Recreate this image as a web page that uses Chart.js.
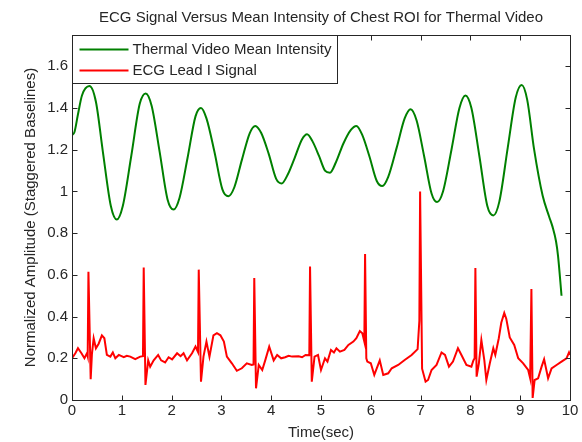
<!DOCTYPE html>
<html>
<head>
<meta charset="utf-8">
<script src="https://cdn.jsdelivr.net/npm/chart.js@4.4.0/dist/chart.umd.min.js"></script>
<style>
  html, body { margin: 0; padding: 0; background: #fff; }
  #wrap { width: 582px; height: 442px; }
</style>
</head>
<body>
<div id="wrap"><canvas id="ecgChart"></canvas></div>
<script>
const chartTitle = 'ECG Signal Versus Mean Intensity of Chest ROI for Thermal Video';
const thermalLabel = 'Thermal Video Mean Intensity';
const ecgLabel = 'ECG Lead I Signal';

// thermal video mean intensity (sec, normalized)
const thermalTime = [0.00, 0.05, 0.12, 0.20, 0.35, 0.48, 0.62, 0.78, 0.90, 1.02, 1.19, 1.36, 1.48, 1.60, 1.76, 1.92,
  2.04, 2.16, 2.32, 2.48, 2.59, 2.70, 2.86, 3.02, 3.14, 3.26, 3.41, 3.57, 3.68, 3.80, 3.95, 4.10, 4.21, 4.33,
  4.47, 4.62, 4.72, 4.83, 4.96, 5.08, 5.18, 5.30, 5.45, 5.60, 5.71, 5.83, 5.97, 6.12, 6.23, 6.35, 6.52, 6.68,
  6.80, 6.92, 7.07, 7.22, 7.33, 7.45, 7.62, 7.78, 7.90, 8.02, 8.18, 8.34, 8.46, 8.58, 8.75, 8.91, 9.03, 9.14,
  9.28, 9.45, 9.58, 9.65, 9.72, 9.76, 9.83];
const thermalValue = [1.27, 1.285, 1.37, 1.46, 1.505, 1.43, 1.19, 0.93, 0.865, 0.93, 1.17, 1.42, 1.47, 1.41, 1.19, 0.96,
  0.913, 0.97, 1.16, 1.36, 1.40, 1.35, 1.19, 1.01, 0.977, 1.02, 1.15, 1.28, 1.314, 1.28, 1.18, 1.06, 1.038, 1.08,
  1.16, 1.25, 1.274, 1.24, 1.17, 1.10, 1.09, 1.14, 1.23, 1.295, 1.314, 1.27, 1.17, 1.05, 1.026, 1.07, 1.21, 1.35,
  1.394, 1.34, 1.17, 0.99, 0.949, 1.00, 1.20, 1.40, 1.46, 1.40, 1.17, 0.93, 0.885, 0.95, 1.21, 1.45, 1.51, 1.44,
  1.20, 0.98, 0.88, 0.83, 0.76, 0.69, 0.50];

// ECG lead I (sec, normalized)
const ecgTime = [0.00, 0.067, 0.12, 0.19, 0.25, 0.30, 0.315, 0.33, 0.375, 0.40, 0.435, 0.48, 0.535, 0.60, 0.65,
  0.70, 0.77, 0.82, 0.87, 0.94, 1.04, 1.10, 1.17, 1.27, 1.37, 1.425, 1.44, 1.475, 1.53, 1.57, 1.64, 1.73, 1.79,
  1.87, 1.94, 2.01, 2.11, 2.18, 2.24, 2.31, 2.41, 2.48, 2.53, 2.545, 2.59, 2.64, 2.70, 2.76, 2.84, 2.91, 2.98,
  3.05, 3.11, 3.21, 3.31, 3.41, 3.51, 3.61, 3.645, 3.66, 3.695, 3.75, 3.82, 3.88, 3.96, 4.05, 4.12, 4.20, 4.28,
  4.35, 4.42, 4.55, 4.62, 4.69, 4.765, 4.78, 4.815, 4.87, 4.94, 5.00, 5.08, 5.13, 5.20, 5.26, 5.31, 5.38, 5.47,
  5.55, 5.65, 5.71, 5.78, 5.83, 5.87, 5.885, 5.91, 5.93, 6.00, 6.07, 6.18, 6.25, 6.35, 6.42, 6.55, 6.68, 6.82,
  6.94, 6.975, 6.99, 7.03, 7.10, 7.15, 7.22, 7.32, 7.42, 7.49, 7.57, 7.65, 7.75, 7.82, 7.92, 8.02, 8.06, 8.085,
  8.10, 8.125, 8.17, 8.22, 8.28, 8.32, 8.39, 8.46, 8.50, 8.57, 8.62, 8.68, 8.72, 8.79, 8.88, 8.96, 9.06, 9.16,
  9.20, 9.225, 9.25, 9.29, 9.36, 9.43, 9.48, 9.56, 9.63, 9.73, 9.83, 9.93, 9.98, 10.0];
const ecgValue = [0.20, 0.224, 0.248, 0.224, 0.20, 0.224, 0.21, 0.615, 0.10, 0.22, 0.296, 0.248, 0.27, 0.31, 0.296,
  0.216, 0.208, 0.228, 0.20, 0.216, 0.205, 0.212, 0.208, 0.196, 0.208, 0.21, 0.635, 0.072, 0.19, 0.16, 0.19, 0.216, 0.19,
  0.18, 0.205, 0.195, 0.224, 0.21, 0.224, 0.19, 0.224, 0.256, 0.23, 0.625, 0.088, 0.208, 0.28, 0.208, 0.31, 0.32, 0.31,
  0.28, 0.208, 0.176, 0.14, 0.152, 0.176, 0.168, 0.17, 0.585, 0.056, 0.168, 0.144, 0.19, 0.256, 0.19, 0.216, 0.20, 0.205,
  0.212, 0.208, 0.21, 0.205, 0.216, 0.215, 0.64, 0.088, 0.208, 0.216, 0.144, 0.20, 0.184, 0.24, 0.228, 0.248, 0.232, 0.24,
  0.264, 0.28, 0.296, 0.33, 0.32, 0.28, 0.70, 0.20, 0.184, 0.176, 0.12, 0.19, 0.12, 0.128, 0.152, 0.168, 0.192, 0.216,
  0.244, 0.38, 1.00, 0.15, 0.088, 0.096, 0.144, 0.168, 0.228, 0.216, 0.16, 0.184, 0.248, 0.216, 0.168, 0.16, 0.19, 0.20,
  0.633, 0.112, 0.176, 0.288, 0.19, 0.096, 0.176, 0.248, 0.216, 0.296, 0.37, 0.417, 0.39, 0.30, 0.264, 0.20, 0.176, 0.144,
  0.104, 0.532, 0.01, 0.096, 0.104, 0.16, 0.195, 0.104, 0.152, 0.168, 0.184, 0.20, 0.228, 0.216];

const xTicks = [0, 1, 2, 3, 4, 5, 6, 7, 8, 9, 10];
const yTicks = [0, 0.2, 0.4, 0.6, 0.8, 1, 1.2, 1.4, 1.6];

const textColor = '#262626';
const fontFamily = '"Liberation Sans", Arial, Helvetica, sans-serif';
const fontSize = 15;

// MATLAB style box: frame, inward ticks, legend and title
const matlabFrame = {
  id: 'matlabFrame',
  afterDraw(chart) {
    const { ctx, chartArea: a, scales: { x, y } } = chart;
    ctx.save();
    ctx.strokeStyle = textColor;
    ctx.lineWidth = 1;
    const L = Math.round(a.left) + 0.5, R = Math.round(a.right) + 0.5;
    const T = Math.round(a.top) + 0.5, B = Math.round(a.bottom) + 0.5;
    ctx.strokeRect(L, T, R - L, B - T);
    const len = 5;
    ctx.beginPath();
    x.ticks.forEach(t => {
      const px = Math.round(x.getPixelForValue(t.value)) + 0.5;
      ctx.moveTo(px, B); ctx.lineTo(px, B - len);
      ctx.moveTo(px, T); ctx.lineTo(px, T + len);
    });
    y.ticks.forEach(t => {
      const py = Math.round(y.getPixelForValue(t.value)) + 0.5;
      ctx.moveTo(L, py); ctx.lineTo(L + len, py);
      ctx.moveTo(R, py); ctx.lineTo(R - len, py);
    });
    ctx.stroke();

    // legend
    const lw = 265, lh = 48;
    ctx.fillStyle = '#fff';
    ctx.fillRect(L, T, lw, lh);
    ctx.strokeRect(L, T, lw, lh);
    ctx.font = fontSize + 'px ' + fontFamily;
    ctx.textBaseline = 'middle';
    ctx.textAlign = 'left';
    chart.data.datasets.forEach((ds, i) => {
      const ry = T + 14 + i * 21;
      ctx.beginPath();
      ctx.strokeStyle = ds.borderColor;
      ctx.lineWidth = 2;
      ctx.moveTo(L + 7, ry); ctx.lineTo(L + 56, ry);
      ctx.stroke();
      ctx.fillStyle = textColor;
      ctx.fillText(ds.label, L + 60, ry + 0.5);
    });

    // title centred over the axes
    ctx.textAlign = 'center';
    ctx.fillStyle = textColor;
    ctx.fillText(chartTitle, (a.left + a.right) / 2, 18);
    ctx.restore();
  }
};

new Chart(document.getElementById('ecgChart'), {
  type: 'line',
  data: {
    datasets: [{
      label: thermalLabel,
      data: thermalTime.map((t, i) => ({ x: t, y: thermalValue[i] })),
      borderColor: 'rgb(0,128,0)',
      borderWidth: 2,
      pointRadius: 0,
      cubicInterpolationMode: 'monotone'
    }, {
      label: ecgLabel,
      data: ecgTime.map((t, i) => ({ x: t, y: ecgValue[i] })),
      borderColor: 'rgb(255,0,0)',
      borderWidth: 2,
      pointRadius: 0,
      tension: 0
    }]
  },
  options: {
    responsive: true,
    maintainAspectRatio: false,
    animation: false,
    layout: { padding: { top: 35, right: 12, left: 0, bottom: 0 } },
    plugins: {
      legend: { display: false },
      title: { display: false },
      tooltip: { enabled: false }
    },
    scales: {
      x: {
        type: 'linear',
        min: 0,
        max: 10,
        afterBuildTicks: s => { s.ticks = xTicks.map(v => ({ value: v })); },
        afterFit: s => { s.height = 42; },
        grid: { display: false, drawTicks: false },
        border: { display: false },
        ticks: { color: textColor, font: { family: fontFamily, size: fontSize }, padding: 2, maxRotation: 0, autoSkip: false },
        title: { display: true, text: 'Time(sec)', color: textColor, font: { family: fontFamily, size: fontSize }, padding: { top: 0, bottom: 0 } }
      },
      y: {
        min: 0,
        max: 1.75,
        afterBuildTicks: s => { s.ticks = yTicks.map(v => ({ value: v })); },
        afterFit: s => { s.width = 72; },
        grid: { display: false, drawTicks: false },
        border: { display: false },
        ticks: { color: textColor, font: { family: fontFamily, size: fontSize }, padding: 4, callback: v => String(+v.toFixed(1)) },
        title: { display: true, text: 'Normalized Amplitude (Staggered Baselines)', color: textColor, font: { family: fontFamily, size: fontSize }, padding: { top: 22, bottom: 0 } }
      }
    }
  },
  plugins: [matlabFrame]
});
</script>
</body>
</html>
